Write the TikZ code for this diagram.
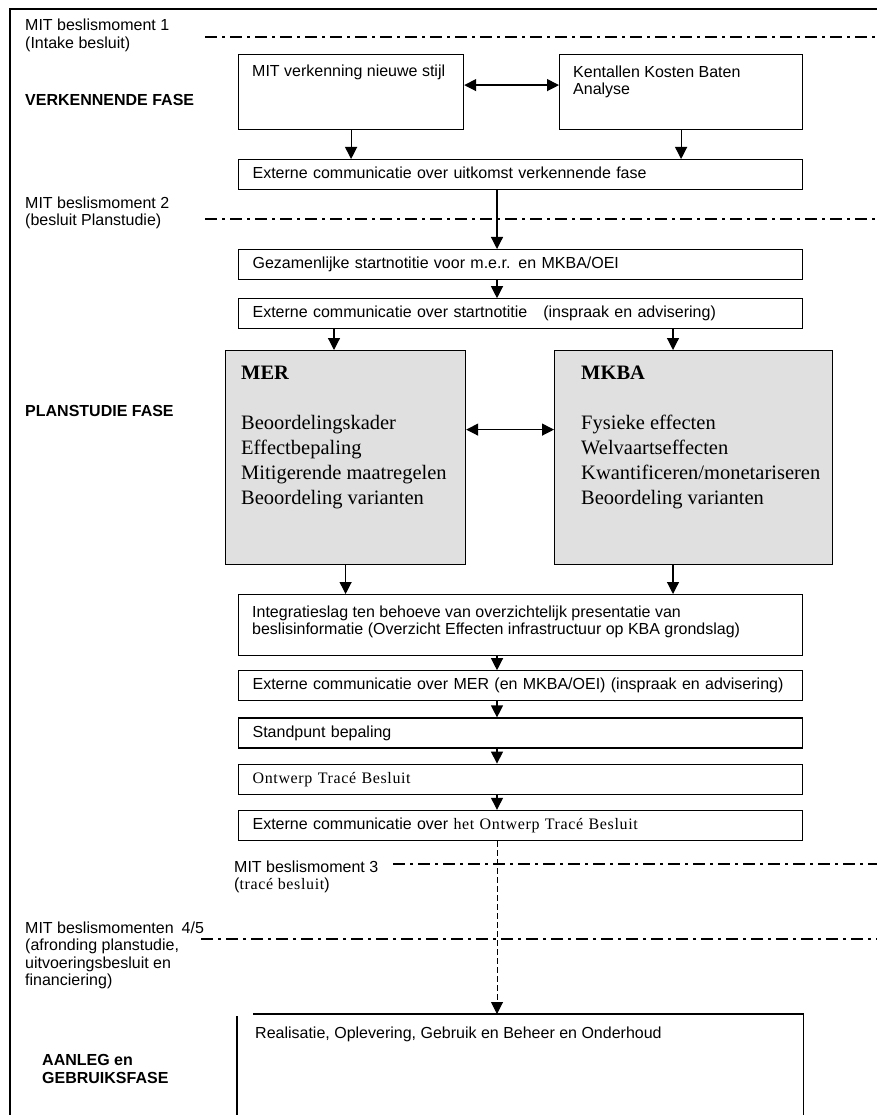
\documentclass[tikz,border=0pt]{standalone}
\usepackage{fontspec}
\setmainfont{Liberation Sans}
\newfontfamily\romfont{Liberation Serif}
\newfontfamily\spacedrom[LetterSpace=4]{Liberation Serif}
\usetikzlibrary{positioning,arrows.meta}

\tikzset{
  boxline/.style={line width=1.2pt},
  fase/.style={font=\fontsize{16}{18}\selectfont\bfseries, align=left, anchor=base west, inner sep=0pt},
  moment/.style={align=left, anchor=north west, inner sep=0pt},
  beslis/.style={line width=2.5pt, dash pattern=on 12pt off 5pt on 3pt off 5pt},
  stap/.style={draw, boxline, anchor=north west, minimum width=564pt, minimum height=30pt,
    text width=536pt, inner xsep=14pt, inner ysep=0pt, align=left,
    text height=11.5pt, text depth=3.5pt},
  blok/.style={draw, boxline, anchor=north west, inner sep=0pt},
  studie/.style={blok, fill=black!12},
  txt/.style={anchor=base west, align=left, inner sep=0pt},
  pijl/.style={boxline, -{Triangle[length=12pt,width=12pt]}},
  dubbel/.style={boxline, {Triangle[length=12pt,width=12pt]}-{Triangle[length=12pt,width=12pt]}},
}

\begin{document}
\begin{tikzpicture}[x=1pt,y=-1pt,font=\fontsize{16}{17.5}\selectfont]
  \useasboundingbox (0,0) rectangle (877,1115);
  % kader
  \draw[line width=2.5pt] (10,1115) -- (10,9) -- (877,9);
  \coordinate (as) at (497,0);
  \coordinate (kolL) at (334,0);
  \coordinate (kolR) at (673,0);

  % verkennende fase
  \node[moment] (m1) at (25,19) {MIT beslismoment 1\\(Intake besluit)};
  \draw[beslis] (205,37) -- (877,37);
  \node[fase] (verkfase) at (25,106) {VERKENNENDE FASE};
  \node[blok, minimum width=225pt, minimum height=75pt] (verk) at (238,54) {};
  \node[blok, minimum width=243pt, minimum height=75pt] (kkba) at (559,54) {};
  \node[txt] (verk-t) at (252,77) {MIT verkenning nieuwe stijl};
  \node[txt, anchor=north west] (kkba-t) at (573,65.5) {Kentallen Kosten Baten\\Analyse};
  \node[stap] (uitk) at (238,159) {Externe communicatie over uitkomst verkennende fase};
  \draw[dubbel] ([yshift=7pt]verk.east) -- ([yshift=7pt]kkba.west);
  \draw[pijl] (verk.south) -- (verk.south |- uitk.north);
  \draw[pijl] (kkba.south) -- (kkba.south |- uitk.north);

  % planstudie
  \node[moment] (m2) at (25,196.5) {MIT beslismoment 2\\(besluit Planstudie)};
  \draw[beslis] (205,219) -- (877,219);
  \node[stap] (gez) at (238,249) {Gezamenlijke startnotitie voor m.e.r. en MKBA/OEI};
  \node[stap, below=18pt of gez] (startn) {Externe communicatie over startnotitie\hspace{16pt}(inspraak en advisering)};
  \draw[pijl] (uitk.south -| as) -- (gez.north -| as);
  \draw[pijl] (gez.south -| as) -- (startn.north -| as);

  \node[fase] (planfase) at (25,416) {PLANSTUDIE FASE};
  \node[studie, minimum width=240pt, minimum height=214pt] (mer) at (225,350) {};
  \node[studie, minimum width=278pt, minimum height=214pt] (mkba) at (554,350) {};
  \node[txt, anchor=north west, font=\romfont\fontsize{20.5}{25}\selectfont] (mer-t) at (241,365.5)
    {\textbf{MER}\\[25pt]Beoordelingskader\\Effectbepaling\\Mitigerende maatregelen\\Beoordeling varianten};
  \node[txt, anchor=north west, font=\romfont\fontsize{20.5}{25}\selectfont] (mkba-t) at (581,365.5)
    {\textbf{MKBA}\\[25pt]Fysieke effecten\\Welvaartseffecten\\Kwantificeren/monetariseren\\Beoordeling varianten};
  \draw[pijl] (startn.south -| kolL) -- (mer.north -| kolL);
  \draw[pijl] (startn.south -| kolR) -- (mkba.north -| kolR);
  \draw[dubbel] ([yshift=28pt]mer.east) -- ([yshift=28pt]mkba.west);

  \node[blok, minimum width=564pt, minimum height=61pt] (integ) at (238,594) {};
  \node[txt, anchor=north west] (integ-t) at (252,605.5) {Integratieslag ten behoeve van overzichtelijk presentatie van\\beslisinformatie (Overzicht Effecten infrastructuur op KBA grondslag)};
  \draw[pijl] (mer.south) -- (mer.south |- integ.north);
  \draw[pijl] (mkba.south -| kolR) -- (integ.north -| kolR);

  \node[stap, below=14pt of integ] (extmer) {Externe communicatie over MER (en MKBA/OEI) (inspraak en advisering)};
  \node[stap, below=16pt of extmer] (stand) {Standpunt bepaling};
  \node[stap, below=15pt of stand] (ontw) {\spacedrom Ontwerp Tracé Besluit};
  \node[stap, below=15pt of ontw] (exth) {Externe communicatie over {\spacedrom het Ontwerp Tracé Besluit}};
  \foreach \a/\b in {integ/extmer, extmer/stand, stand/ontw, ontw/exth}
    \draw[pijl] (\a.south -| as) -- (\b.north -| as);

  % beslismomenten 3 en 4/5
  \node[moment] (m3) at (234,860.5) {MIT beslismoment 3\\({\spacedrom tracé besluit})};
  \draw[beslis] (393,864) -- (877,864);
  \node[moment] (m45) at (25,921.5) {MIT beslismomenten\hspace{8pt}4/5\\(afronding planstudie,\\uitvoeringsbesluit en\\financiering)};
  \draw[beslis] (201,939) -- (877,939);

  % aanleg en gebruiksfase
  \node[blok, draw=none, minimum width=565pt, minimum height=101pt] (real) at (237,1014) {};
  \draw[boxline] ([xshift=16pt]real.north west) -- (real.north east) -- (real.south east);
  \draw[boxline] ([yshift=-2pt]real.north west) -- (real.south west);
  \node[txt] (real-t) at (255,1038) {Realisatie, Oplevering, Gebruik en Beheer en Onderhoud};
  \node[fase, anchor=north west] (aanleg) at (42,1054.5) {AANLEG en\\GEBRUIKSFASE};
  \draw[pijl, line width=1pt, dash pattern=on 6pt off 3pt] (exth.south -| as) -- (real.north -| as);
\end{tikzpicture}
\end{document}
